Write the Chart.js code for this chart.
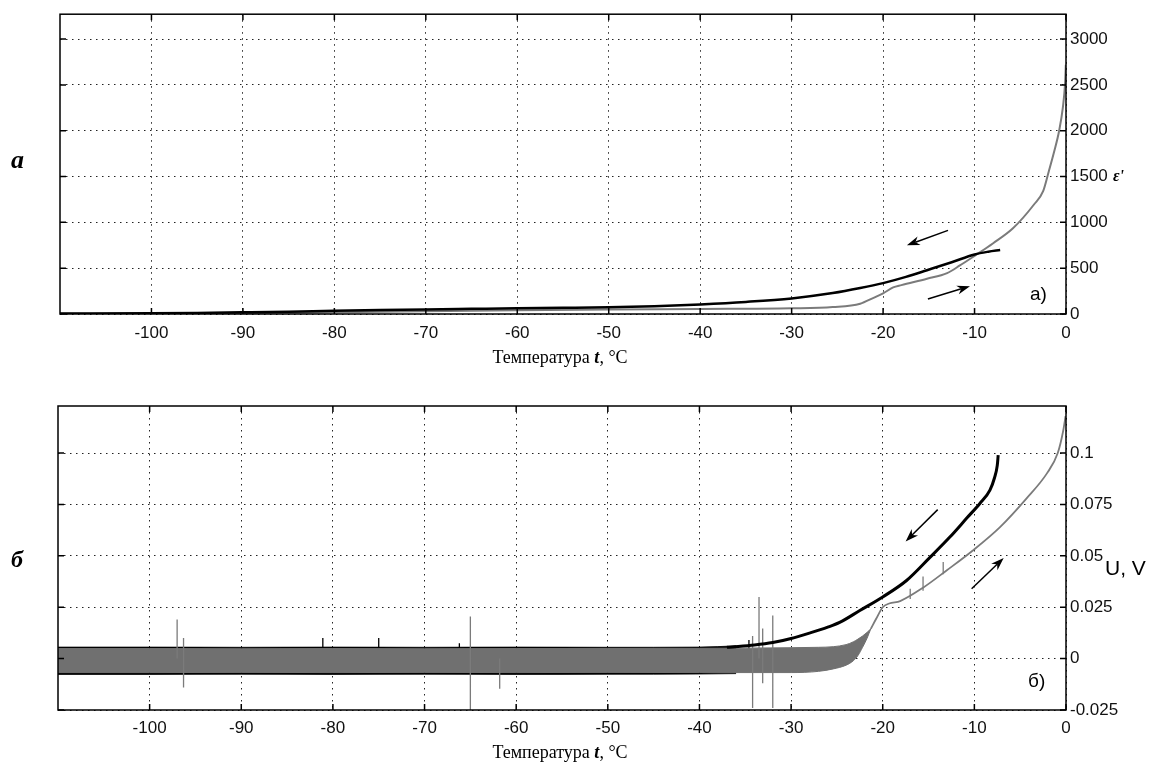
<!DOCTYPE html>
<html lang="ru">
<head>
<meta charset="utf-8">
<title>ε' и U в зависимости от температуры</title>
<script src="https://cdn.jsdelivr.net/npm/chart.js@4.4.1/dist/chart.umd.min.js"></script>
<style>
  html, body { margin: 0; padding: 0; background: #fff; }
  #wrap { position: relative; width: 1152px; height: 767px; overflow: hidden; }
  canvas { position: absolute; left: 0; }
  .lbl { position: absolute; line-height: 1; white-space: nowrap; color: #000; }
  .serif { font-family: 'Liberation Serif', 'Times New Roman', serif; }
  .sans { font-family: 'Liberation Sans', Arial, sans-serif; }
  .bi { font-weight: bold; font-style: italic; }
</style>
</head>
<body>
<div id="wrap">
  <canvas id="chartA" width="1152" height="380" style="top:0"></canvas>
  <canvas id="chartB" width="1152" height="387" style="top:380px"></canvas>

  <div class="lbl serif bi" style="left:11px;top:147px;font-size:26px">a</div>
  <div class="lbl serif bi" style="left:11px;top:547px;font-size:24px">б</div>

  <div class="lbl sans" style="left:1030px;top:284px;font-size:19px">a)</div>
  <div class="lbl sans" style="left:1028px;top:671px;font-size:19px">б)</div>

  <div class="lbl serif bi" style="left:1113px;top:168px;font-size:16px">ε'</div>
  <div class="lbl sans" style="left:1105px;top:557px;font-size:21px">U, V</div>

  <div class="lbl serif" style="left:560px;top:348px;font-size:18px;transform:translateX(-50%)">Температура <b><i>t</i></b>, °C</div>
  <div class="lbl serif" style="left:560px;top:743px;font-size:18px;transform:translateX(-50%)">Температура <b><i>t</i></b>, °C</div>
</div>

<script>
// ---------- общие деления оси температуры
const xTickValues = [-100, -90, -80, -70, -60, -50, -40, -30, -20, -10, 0];

// ---------- а) ε'(t)
// охлаждение (чёрная кривая)
const tCoolA   = [-110, -100, -95, -90, -85, -80, -75, -70, -65, -60, -55, -50, -45, -40, -35, -30, -25.5, -22.5, -20, -17.5, -15.2, -12.5, -10, -8.5, -7.2];
const epsCool  = [5, 8, 12, 18, 25, 35, 43, 50, 56, 62, 67, 73, 85, 105, 132, 170, 228, 283, 337, 405, 478, 565, 650, 680, 698];
// нагрев (серая кривая)
const tHeatA   = [-110, -100, -90, -80, -70, -60, -50, -40, -30, -25.5, -22.5, -21.1, -20, -18.9, -18, -15.2, -13, -11.6, -10, -8, -5.8, -3.5, -2.5, -1.9, -1.3, -0.75, -0.35, -0.1, -0.02];
const epsHeat  = [3, 5, 10, 20, 30, 40, 50, 55, 62, 76, 112, 174, 225, 290, 315, 385, 447, 530, 635, 770, 935, 1195, 1340, 1550, 1770, 2000, 2250, 2520, 2720];
const epsTicks = [0, 500, 1000, 1500, 2000, 2500, 3000];
// стрелки-указатели [t, ε']
const arrowsA = [
  { from: [-12.9, 913], to: [-17.4, 750] },
  { from: [-15.1, 163], to: [-10.5, 304] }
];

// ---------- б) U(t)
// охлаждение: шумовая полоса и затем кривая
const tBandCool  = [-110, -100, -90, -80, -70, -60, -50, -40, -36];
const uBandCoolH = [0.0056, 0.0056, 0.0055, 0.0056, 0.0055, 0.0056, 0.0055, 0.0056, 0.0062];
const uBandCoolL = [-0.0077, -0.0077, -0.0076, -0.0077, -0.0076, -0.0077, -0.0076, -0.0075, -0.0073];
const tCoolB  = [-37, -36.4, -34, -32, -30, -28, -26, -24.7, -22.5, -20, -17.4, -14.9, -12.7, -10.8, -9.4, -8.3, -7.8, -7.5, -7.4];
const uCool   = [0.0055, 0.0057, 0.0066, 0.0078, 0.0098, 0.0124, 0.0153, 0.0176, 0.0234, 0.030, 0.038, 0.049, 0.059, 0.0685, 0.0755, 0.082, 0.088, 0.094, 0.099];
// нагрев: шумовая полоса и затем кривая
const tBandHeat  = [-110, -100, -90, -80, -70, -60, -50, -40, -30, -27, -25.4, -24, -23.2, -22.7, -22.2, -21.7, -21.3];
const uBandHeatH = [0.0049, 0.0049, 0.0048, 0.0049, 0.0048, 0.0049, 0.0049, 0.005, 0.0053, 0.0055, 0.0058, 0.0068, 0.0082, 0.0095, 0.011, 0.0128, 0.0145];
const uBandHeatL = [-0.0068, -0.0068, -0.0067, -0.0068, -0.0067, -0.0068, -0.0067, -0.0068, -0.0068, -0.0062, -0.005, -0.0032, -0.001, 0.0015, 0.0055, 0.010, 0.0145];
const tHeatB  = [-21.3, -20.7, -20, -19.3, -18.1, -15.6, -13, -10.2, -7.2, -4.3, -2.1, -0.9, -0.3, -0.05];
const uHeat   = [0.0145, 0.0195, 0.025, 0.0268, 0.028, 0.0345, 0.043, 0.0525, 0.064, 0.078, 0.090, 0.100, 0.111, 0.118];
// выбросы (вертикальные всплески) серой кривой
const tSpikeHeat  = [-97.0, -96.3, -65.0, -61.8, -34.2, -33.5, -33.1, -32.0, -17.0, -15.6, -13.4];
const uSpikeHeatL = [0.000, -0.014, -0.025, -0.0147, -0.024, 0.000, -0.012, -0.024, 0.029, 0.033, 0.041];
const uSpikeHeatH = [0.019, 0.010, 0.0205, 0.000, 0.011, 0.030, 0.0146, 0.021, 0.034, 0.040, 0.047];
// выбросы чёрной кривой
const tSpikeCool  = [-81.1, -75.0, -66.2, -34.6];
const uSpikeCoolL = [0.000, 0.000, 0.000, 0.000];
const uSpikeCoolH = [0.010, 0.010, 0.0075, 0.009];
const uTicks      = [-0.025, 0, 0.025, 0.05, 0.075, 0.1];
const uTickLabels = ['-0.025', '0', '0.025', '0.05', '0.075', '0.1'];
const arrowsB = [
  { from: [-14.0, 0.0725], to: [-17.5, 0.057] },
  { from: [-10.3, 0.034], to: [-6.8, 0.049] }
];

// ---------- вспомогательные функции
function pts(xs, ys) {
  return xs.map((x, i) => ({ x: x, y: ys[i] }));
}
function spikes(ts, lo, hi) {
  const out = [];
  ts.forEach((t, i) => {
    out.push({ x: t, y: lo[i] }, { x: t, y: hi[i] }, { x: t, y: null });
  });
  return out;
}

const FONT_SANS = 'Liberation Sans, Arial, sans-serif';
const GRAY_LINE = '#7b7b7b';
const GRAY_BAND = '#707070';

// рамка графика с внутренними засечками (как в MATLAB)
const boxPlugin = {
  id: 'matlabBox',
  afterDatasetsDraw(chart) {
    const { ctx, chartArea: a, scales: { x, y } } = chart;
    const L = 6;
    ctx.save();
    ctx.strokeStyle = '#000';
    ctx.lineWidth = 1.5;
    ctx.setLineDash([]);
    ctx.strokeRect(a.left, a.top, a.right - a.left, a.bottom - a.top);
    ctx.beginPath();
    x.ticks.forEach(t => {
      const px = x.getPixelForValue(t.value);
      ctx.moveTo(px, a.bottom); ctx.lineTo(px, a.bottom - L);
      ctx.moveTo(px, a.top); ctx.lineTo(px, a.top + L);
    });
    y.ticks.forEach(t => {
      const py = y.getPixelForValue(t.value);
      ctx.moveTo(a.left, py); ctx.lineTo(a.left + L, py);
      ctx.moveTo(a.right, py); ctx.lineTo(a.right - L, py);
    });
    ctx.stroke();
    ctx.restore();
  }
};

// стрелки направления хода температуры
const arrowPlugin = {
  id: 'arrows',
  afterDatasetsDraw(chart, args, opts) {
    const { ctx, scales: { x, y } } = chart;
    (opts.items || []).forEach(a => {
      const x1 = x.getPixelForValue(a.from[0]), y1 = y.getPixelForValue(a.from[1]);
      const x2 = x.getPixelForValue(a.to[0]), y2 = y.getPixelForValue(a.to[1]);
      const ang = Math.atan2(y2 - y1, x2 - x1);
      const c = Math.cos(ang), s = Math.sin(ang);
      const len = 13, half = 4.5;
      ctx.save();
      ctx.strokeStyle = '#000';
      ctx.fillStyle = '#000';
      ctx.lineWidth = 1.5;
      ctx.beginPath();
      ctx.moveTo(x1, y1);
      ctx.lineTo(x2 - c * len * 0.7, y2 - s * len * 0.7);
      ctx.stroke();
      ctx.beginPath();
      ctx.moveTo(x2, y2);
      ctx.lineTo(x2 - len * c + half * s, y2 - len * s - half * c);
      ctx.lineTo(x2 - len * 0.7 * c, y2 - len * 0.7 * s);
      ctx.lineTo(x2 - len * c - half * s, y2 - len * s + half * c);
      ctx.closePath();
      ctx.fill();
      ctx.restore();
    });
  }
};

function xScale(padding, height) {
  return {
    type: 'linear',
    min: -110,
    max: 0,
    afterBuildTicks: s => { s.ticks = xTickValues.map(v => ({ value: v })); },
    afterFit: s => { s.height = height; },
    ticks: {
      padding: padding,
      autoSkip: false,
      maxRotation: 0,
      color: '#111',
      font: { family: FONT_SANS, size: 17 },
      callback: v => String(v)
    },
    grid: { color: '#222', lineWidth: 1, drawTicks: false },
    border: { display: false, dash: [1.5, 4.5] }
  };
}

function yScale(min, max, values, labels) {
  return {
    type: 'linear',
    position: 'right',
    min: min,
    max: max,
    afterBuildTicks: s => { s.ticks = values.map(v => ({ value: v })); },
    afterFit: s => { s.width = 86; },
    ticks: {
      padding: 4,
      autoSkip: false,
      color: '#111',
      font: { family: FONT_SANS, size: 17 },
      callback: (v, i) => labels[i]
    },
    grid: { color: '#222', lineWidth: 1, drawTicks: false },
    border: { display: false, dash: [1.5, 4.5] }
  };
}

function lineSet(data, color, width, order, extra) {
  return Object.assign({
    data: data,
    borderColor: color,
    backgroundColor: color,
    borderWidth: width,
    pointRadius: 0,
    fill: false,
    order: order,
    cubicInterpolationMode: 'monotone',
    spanGaps: false
  }, extra || {});
}

const baseOptions = {
  responsive: false,
  animation: false,
  events: [],
  plugins: { legend: { display: false }, tooltip: { enabled: false } }
};

// ---------- график а)
new Chart(document.getElementById('chartA'), {
  type: 'line',
  data: {
    datasets: [
      lineSet(pts(tCoolA, epsCool), '#000', 2.5, 0),
      lineSet(pts(tHeatA, epsHeat), GRAY_LINE, 2, 1)
    ]
  },
  options: Object.assign({}, baseOptions, {
    layout: { padding: { left: 60, top: 13, right: 0, bottom: 0 } },
    scales: {
      x: xScale(9, 66),
      y: yScale(0, 3272, epsTicks, epsTicks.map(String))
    },
    plugins: Object.assign({}, baseOptions.plugins, { arrows: { items: arrowsA } })
  }),
  plugins: [boxPlugin, arrowPlugin]
});

// ---------- график б)
new Chart(document.getElementById('chartB'), {
  type: 'line',
  data: {
    datasets: [
      lineSet(pts(tCoolB, uCool), '#000', 3, 0),                                   // 0
      lineSet(pts(tHeatB, uHeat), GRAY_LINE, 1.8, 1),                              // 1
      lineSet(spikes(tSpikeHeat, uSpikeHeatL, uSpikeHeatH), GRAY_LINE, 1.3, 2,
              { cubicInterpolationMode: 'default', tension: 0 }),                  // 2
      lineSet(pts(tBandHeat, uBandHeatH), GRAY_BAND, 1, 3,
              { fill: 4, backgroundColor: GRAY_BAND }),                            // 3
      lineSet(pts(tBandHeat, uBandHeatL), GRAY_BAND, 1, 3),                        // 4
      lineSet(spikes(tSpikeCool, uSpikeCoolL, uSpikeCoolH), '#000', 1.3, 4,
              { cubicInterpolationMode: 'default', tension: 0 }),                  // 5
      lineSet(pts(tBandCool, uBandCoolH), '#000', 0.8, 5,
              { fill: 7, backgroundColor: '#000' }),                               // 6
      lineSet(pts(tBandCool, uBandCoolL), '#000', 0.8, 5)                          // 7
    ]
  },
  options: Object.assign({}, baseOptions, {
    layout: { padding: { left: 58, top: 26, right: 0, bottom: 0 } },
    scales: {
      x: xScale(8, 57),
      y: yScale(-0.025, 0.1229, uTicks, uTickLabels)
    },
    plugins: Object.assign({}, baseOptions.plugins, { arrows: { items: arrowsB } })
  }),
  plugins: [boxPlugin, arrowPlugin]
});
</script>
</body>
</html>
